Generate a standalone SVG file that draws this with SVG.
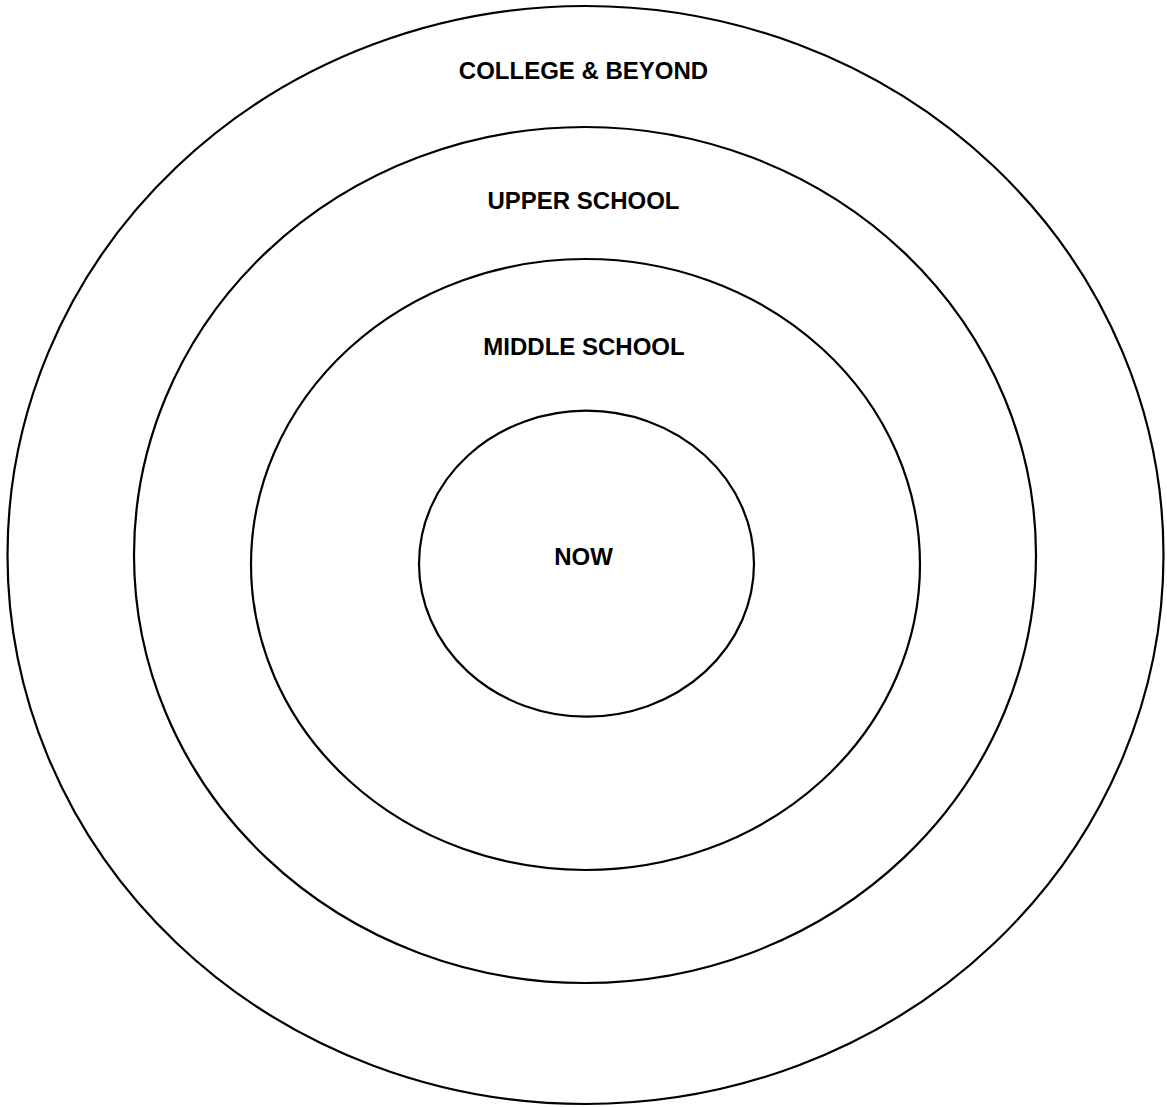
<svg xmlns="http://www.w3.org/2000/svg" width="1167" height="1107" viewBox="0 0 1167 1107">
<style>
.ring{fill:none;stroke:#000;stroke-width:2.2}
.lbl{font-family:"Liberation Sans",Arial,sans-serif;font-weight:bold;font-size:24px;fill:#000;text-anchor:middle}
</style>
<rect width="1167" height="1107" fill="#fff"/>
<g id="college">
<ellipse class="ring" cx="585.5" cy="555" rx="578" ry="549"/>
<text class="lbl" x="583.5" y="79">COLLEGE &amp; BEYOND</text>
</g>
<g id="upper">
<ellipse class="ring" cx="585" cy="555" rx="451" ry="428"/>
<text class="lbl" x="583.5" y="209">UPPER SCHOOL</text>
</g>
<g id="middle">
<ellipse class="ring" cx="585.5" cy="564.5" rx="334.5" ry="305.5"/>
<text class="lbl" x="584" y="355">MIDDLE SCHOOL</text>
</g>
<g id="now">
<ellipse class="ring" cx="586.5" cy="563.7" rx="167.5" ry="153"/>
<text class="lbl" x="583.5" y="565">NOW</text>
</g>
<g id="connectors"/>
</svg>
